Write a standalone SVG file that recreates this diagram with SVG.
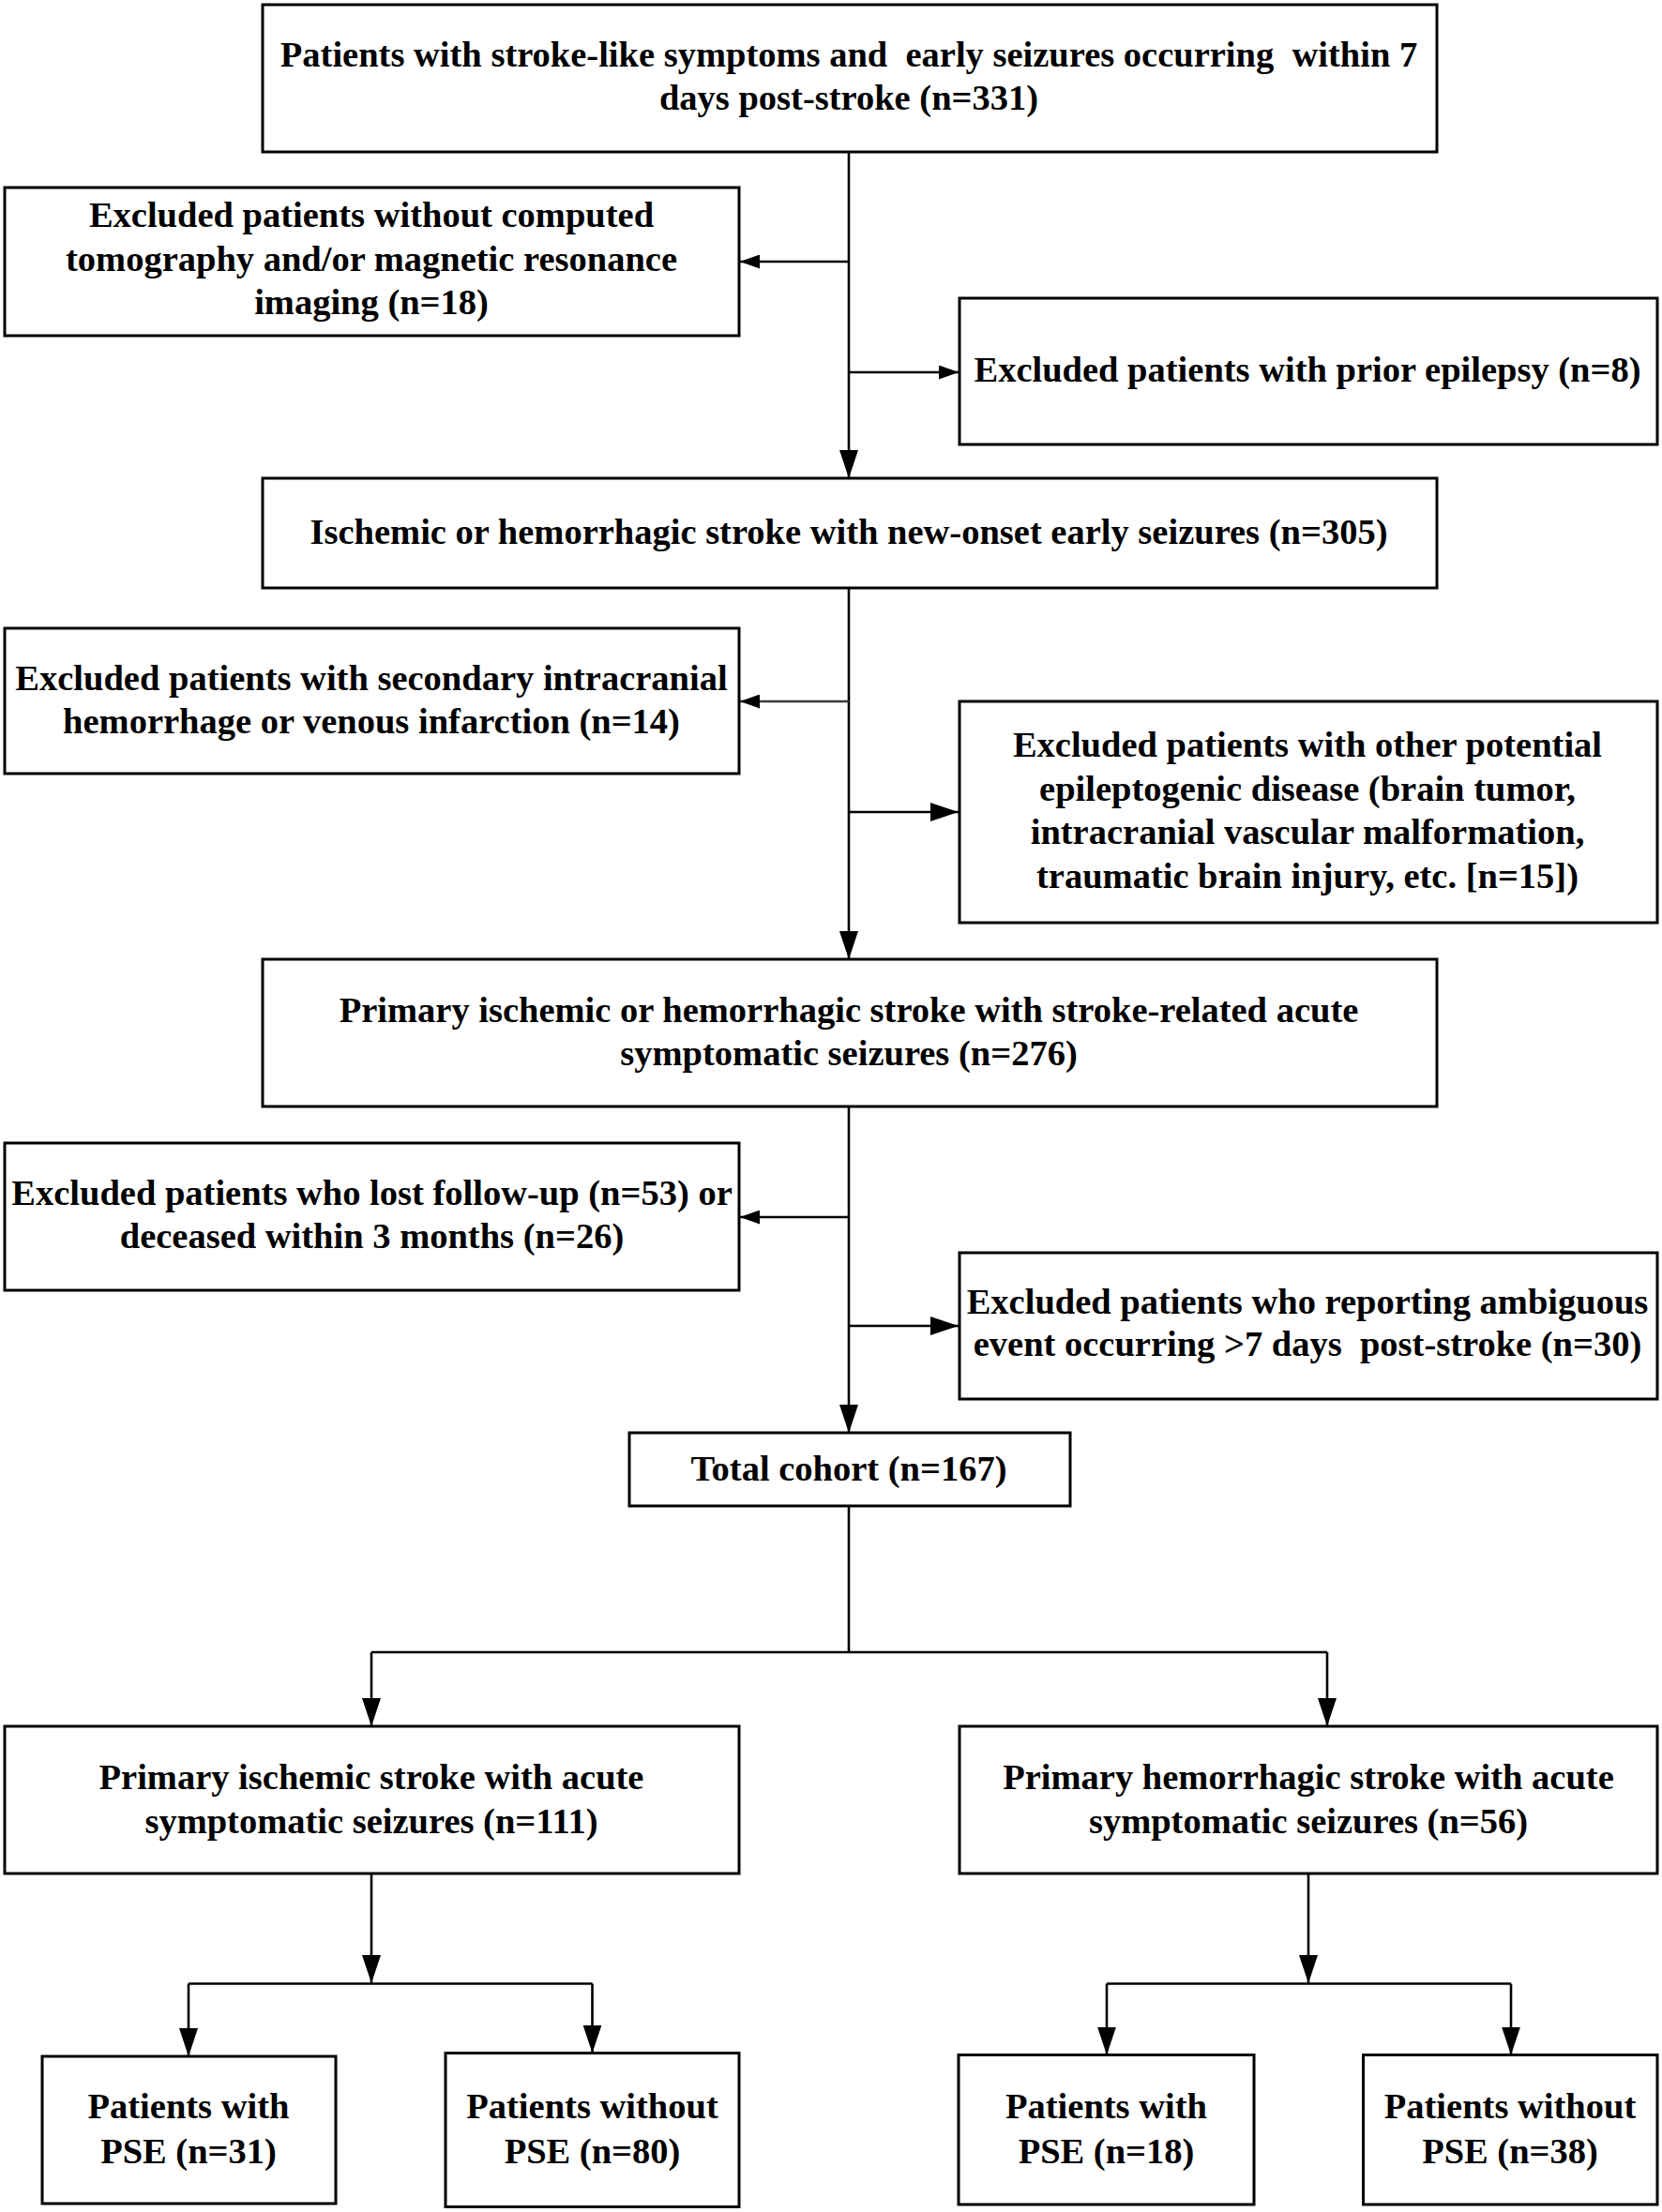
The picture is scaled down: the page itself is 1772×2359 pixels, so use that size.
<svg xmlns="http://www.w3.org/2000/svg" width="1772" height="2359" viewBox="0 0 1772 2359">
<style>
.box{fill:#fff;stroke:#000;stroke-width:3}
.t{font-family:"Liberation Serif","Times New Roman",serif;font-weight:bold;font-size:38.5px;fill:#000;text-anchor:middle}
.c{fill:none;stroke:#000;stroke-width:2.6}
.g{stroke:#3a3a3a}
</style>
<defs>
<marker id="ah" markerUnits="userSpaceOnUse" markerWidth="30" markerHeight="20" refX="30" refY="10" orient="auto" viewBox="0 0 30 20"><path d="M0,0 L30,10 L0,20 z" fill="#000"/></marker>
<marker id="as" markerUnits="userSpaceOnUse" markerWidth="21" markerHeight="15" refX="21" refY="7.5" orient="auto" viewBox="0 0 21 15"><path d="M0,0 L21,7.5 L0,15 z" fill="#000"/></marker>
</defs>
<rect width="1772" height="2359" fill="#fff"/>
<g id="connectors">
<path class="c" d="M905,162 V510" marker-end="url(#ah)"/>
<path class="c" d="M905,279 H789" marker-end="url(#as)"/>
<path class="c" d="M905,397 H1022" marker-end="url(#as)"/>
<path class="c" d="M905,627 V1023" marker-end="url(#ah)"/>
<path class="c g" d="M905,748 H789" marker-end="url(#as)"/>
<path class="c" d="M905,866 H1022" marker-end="url(#ah)"/>
<path class="c" d="M905,1180 V1528" marker-end="url(#ah)"/>
<path class="c" d="M905,1298 H789" marker-end="url(#as)"/>
<path class="c" d="M905,1414 H1022" marker-end="url(#ah)"/>
<path class="c" d="M905,1606 V1762 M396,1762 H1415"/>
<path class="c" d="M396,1762 V1841" marker-end="url(#ah)"/>
<path class="c" d="M1415,1762 V1841" marker-end="url(#ah)"/>
<path class="c" d="M396,1998 V2115" marker-end="url(#ah)"/>
<path class="c" d="M201,2115.5 H631.5"/>
<path class="c" d="M201,2115.5 V2193" marker-end="url(#ah)"/>
<path class="c" d="M631.5,2115.5 V2189.5" marker-end="url(#ah)"/>
<path class="c" d="M1395,1998 V2115" marker-end="url(#ah)"/>
<path class="c" d="M1180,2115.5 H1611"/>
<path class="c" d="M1180,2115.5 V2191.5" marker-end="url(#ah)"/>
<path class="c" d="M1611,2115.5 V2191.5" marker-end="url(#ah)"/>
</g>
<g id="n1">
<rect class="box" x="280" y="5" width="1252" height="157"/>
<text class="t" x="905" y="71" xml:space="preserve">Patients with stroke-like symptoms and  early seizures occurring  within 7</text>
<text class="t" x="905" y="117">days post-stroke (n=331)</text>
</g>
<g id="ex1">
<rect class="box" x="5" y="200" width="783" height="158"/>
<text class="t" x="396" y="242">Excluded patients without computed</text>
<text class="t" x="396" y="289">tomography and/or magnetic resonance</text>
<text class="t" x="396" y="335">imaging (n=18)</text>
</g>
<g id="ex2">
<rect class="box" x="1023" y="318" width="744" height="156"/>
<text class="t" x="1394" y="407">Excluded patients with prior epilepsy (n=8)</text>
</g>
<g id="n2">
<rect class="box" x="280" y="510" width="1252" height="117"/>
<text class="t" x="905" y="580">Ischemic or hemorrhagic stroke with new-onset early seizures (n=305)</text>
</g>
<g id="ex3">
<rect class="box" x="5" y="670" width="783" height="155"/>
<text class="t" x="396" y="736">Excluded patients with secondary intracranial</text>
<text class="t" x="396" y="782">hemorrhage or venous infarction (n=14)</text>
</g>
<g id="ex4">
<rect class="box" x="1023" y="748" width="744" height="236"/>
<text class="t" x="1394" y="807">Excluded patients with other potential</text>
<text class="t" x="1394" y="853.5">epileptogenic disease (brain tumor,</text>
<text class="t" x="1394" y="900">intracranial vascular malformation,</text>
<text class="t" x="1394" y="946.5">traumatic brain injury, etc. [n=15])</text>
</g>
<g id="n3">
<rect class="box" x="280" y="1023" width="1252" height="157"/>
<text class="t" x="905" y="1089.5">Primary ischemic or hemorrhagic stroke with stroke-related acute</text>
<text class="t" x="905" y="1135.5">symptomatic seizures (n=276)</text>
</g>
<g id="ex5">
<rect class="box" x="5" y="1219" width="783" height="157"/>
<text class="t" x="396.5" y="1284.5">Excluded patients who lost follow-up (n=53) or</text>
<text class="t" x="396.5" y="1330.5">deceased within 3 months (n=26)</text>
</g>
<g id="ex6">
<rect class="box" x="1023" y="1336" width="744" height="156"/>
<text class="t" x="1394" y="1400.5">Excluded patients who reporting ambiguous</text>
<text class="t" x="1394" y="1446" xml:space="preserve">event occurring &gt;7 days  post-stroke (n=30)</text>
</g>
<g id="n4">
<rect class="box" x="671" y="1528" width="470" height="78"/>
<text class="t" x="905" y="1579">Total cohort (n=167)</text>
</g>
<g id="n5">
<rect class="box" x="5" y="1841" width="783" height="157"/>
<text class="t" x="396" y="1907.5">Primary ischemic stroke with acute</text>
<text class="t" x="396" y="1954.5">symptomatic seizures (n=111)</text>
</g>
<g id="n6">
<rect class="box" x="1023" y="1841" width="744" height="157"/>
<text class="t" x="1395" y="1907.5">Primary hemorrhagic stroke with acute</text>
<text class="t" x="1395" y="1954.5">symptomatic seizures (n=56)</text>
</g>
<g id="n7">
<rect class="box" x="45" y="2193" width="313" height="157"/>
<text class="t" x="201" y="2259">Patients with</text>
<text class="t" x="201" y="2306.5">PSE (n=31)</text>
</g>
<g id="n8">
<rect class="box" x="475" y="2189.5" width="313" height="164"/>
<text class="t" x="631.5" y="2259">Patients without</text>
<text class="t" x="631.5" y="2306.5">PSE (n=80)</text>
</g>
<g id="n9">
<rect class="box" x="1022" y="2191.5" width="315" height="159.5"/>
<text class="t" x="1179.5" y="2259">Patients with</text>
<text class="t" x="1179.5" y="2306.5">PSE (n=18)</text>
</g>
<g id="n10">
<rect class="box" x="1453.5" y="2191.5" width="313.5" height="159.5"/>
<text class="t" x="1610" y="2259">Patients without</text>
<text class="t" x="1610" y="2306.5">PSE (n=38)</text>
</g>
</svg>
